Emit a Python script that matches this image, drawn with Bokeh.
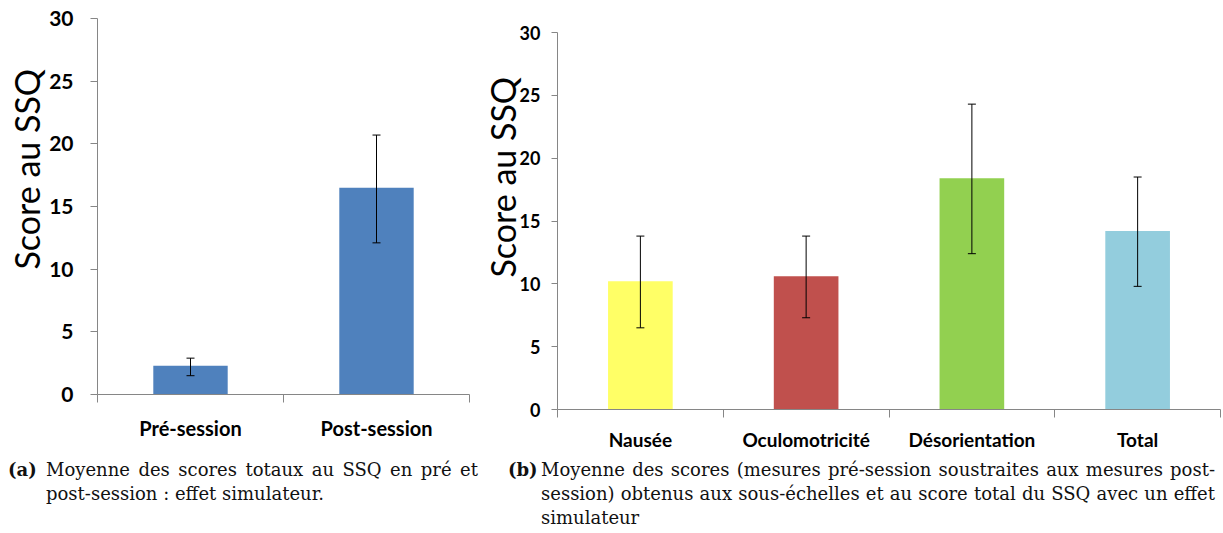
from bokeh.plotting import figure
from bokeh.models import FixedTicker, Whisker, ColumnDataSource, Div, TeeHead, Range1d, Title, Spacer
from bokeh.layouts import column, row
from bokeh.embed import file_html
from bokeh.resources import INLINE

# ---- data ----
cats_a = ["Pré-session", "Post-session"]
means_a = [2.3, 16.5]
lower_a = [1.5, 12.1]
upper_a = [2.9, 20.7]
colors_a = ["#4F81BD", "#4F81BD"]

cats_b = ["Nausée", "Oculomotricité", "Désorientation", "Total"]
means_b = [10.2, 10.6, 18.4, 14.2]
lower_b = [6.5, 7.3, 12.4, 9.8]
upper_b = [13.8, 13.8, 24.3, 18.5]
colors_b = ["#FFFF66", "#C0504D", "#92D050", "#93CDDD"]

y_ticks = [0, 5, 10, 15, 20, 25, 30]
y_label = "Score au SSQ"

caption_a = ["Moyenne des scores totaux au SSQ en pré et",
             "post-session : effet simulateur."]
caption_b = ["Moyenne des scores (mesures pré-session soustraites aux mesures post-",
             "session) obtenus aux sous-échelles et au score total du SSQ avec un effet",
             "simulateur"]

AXIS = "#868686"
FONT = "Lato"


def chart(cats, means, lows, highs, colors, width, height, borders, tick_size,
          cat_size, ylab_size, ytick_out, ystand, cat_stand, bar_w, lab_offset, lab_standoff):
    n = len(cats)
    centers = [i + 0.5 for i in range(n)]
    bounds = [float(i) for i in range(n + 1)]
    left, right, top, bottom = borders
    p = figure(width=width, height=height, x_range=Range1d(0, n), y_range=Range1d(0, 30),
               output_backend="svg", toolbar_location=None,
               min_border_left=left, min_border_right=right,
               min_border_top=top, min_border_bottom=bottom)
    p.outline_line_color = None
    p.xgrid.visible = False
    p.ygrid.visible = False
    p.background_fill_color = "white"
    src = ColumnDataSource(dict(x=centers, top=means, lo=lows, hi=highs, color=colors))
    p.vbar(x="x", top="top", width=bar_w, bottom=0, fill_color="color", line_color=None, source=src)
    w = Whisker(base="x", lower="lo", upper="hi", source=src, line_color="black", line_width=1,
                upper_head=TeeHead(size=8, line_color="black", line_width=1),
                lower_head=TeeHead(size=8, line_color="black", line_width=1),
                level="overlay")
    p.add_layout(w)

    ya = p.yaxis[0]
    ya.ticker = FixedTicker(ticks=y_ticks, minor_ticks=[])
    ya.axis_line_color = AXIS
    ya.major_tick_line_color = AXIS
    ya.major_tick_out = ytick_out
    ya.major_tick_in = 0
    ya.minor_tick_out = 0
    ya.minor_tick_in = 0
    ya.major_label_text_font = FONT
    ya.major_label_text_font_style = "bold"
    ya.major_label_text_font_size = f"{tick_size}px"
    ya.major_label_text_color = "black"
    ya.major_label_standoff = ystand

    p.add_layout(Title(text=y_label, align="left", offset=lab_offset, standoff=lab_standoff,
                       text_font=FONT, text_font_size=f"{ylab_size}px",
                       text_font_style="normal", text_color="black"), "left")

    xa = p.xaxis[0]
    xa.ticker = FixedTicker(ticks=centers, minor_ticks=bounds)
    xa.major_label_overrides = {c: name for c, name in zip(centers, cats)}
    xa.axis_line_color = AXIS
    xa.major_tick_out = 0
    xa.major_tick_in = 0
    xa.minor_tick_out = 8
    xa.minor_tick_in = 0
    xa.minor_tick_line_color = AXIS
    xa.major_label_text_font = FONT
    xa.major_label_text_font_style = "bold"
    xa.major_label_text_font_size = f"{cat_size}px"
    xa.major_label_text_color = "black"
    xa.major_label_standoff = cat_stand
    return p


p1 = chart(cats_a, means_a, lower_a, upper_a, colors_a, 480, 442, (97, 11, 18, 45),
           21, 20, 34, 7, 17, 13, 0.40, 125, 0)
p2 = chart(cats_b, means_b, lower_b, upper_b, colors_b, 743, 440, (77, 3, 18, 45),
           18, 19, 34, 6, 11, 10, 0.39, 132, -12)


def caption(tag, lines, width, pad_left, pad_right, text_left):
    parts = []
    for i, ln in enumerate(lines):
        last = "left" if i == len(lines) - 1 else "justify"
        parts.append(f'<div style="text-align:justify;text-align-last:{last};white-space:nowrap;">{ln}</div>')
    html = (f'<div style="display:flex;font-family:\'DejaVu Serif\';font-size:18px;line-height:24px;'
            f'color:#111;padding-top:4px;padding-left:{pad_left}px;padding-right:{pad_right}px;'
            f'width:{width}px;box-sizing:border-box;">'
            f'<div style="font-weight:bold;width:{text_left}px;flex:none;">{tag}</div>'
            f'<div style="flex:1;">{"".join(parts)}</div></div>')
    return Div(text=html, width=width, height=79, margin=(0, 0, 0, 0))


d1 = caption("(a)", caption_a, 480, 8, 2, 38)
d2 = caption("(b)", caption_b, 743, 28, 8, 33)

layout = column(row(p1, column(Spacer(height=14, width=743), p2)), row(d1, d2))
open("out.html", "w").write(file_html(layout, INLINE))
